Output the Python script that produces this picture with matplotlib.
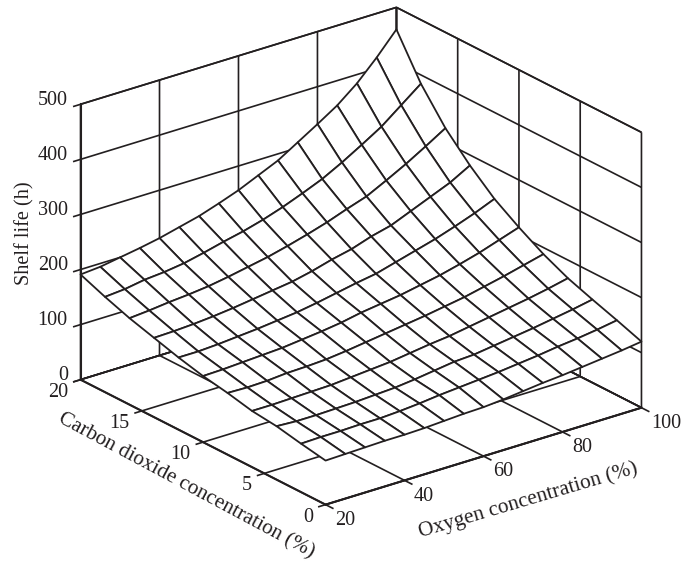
import numpy as np
import matplotlib
matplotlib.use('Agg')
import matplotlib.pyplot as plt
from matplotlib.transforms import Affine2D
from mpl_toolkits.mplot3d import proj3d

plt.rcParams['font.family'] = ['Liberation Serif', 'DejaVu Serif']

oxygen = [20, 25, 30, 35, 40, 45, 50, 55, 60, 65, 70, 75, 80, 85, 90, 95, 100]
carbon_dioxide = [20, 18, 16, 14, 12, 10, 8, 6, 4, 2, 0]
shelf_co2_20 = [191, 194, 200, 206, 213, 222, 231, 243, 256, 272, 288, 310, 332, 355, 384, 420, 460]
shelf_co2_18 = [173, 176, 182, 185, 190, 198, 207, 215, 225, 237, 251, 266, 285, 306, 328, 356, 384]
shelf_co2_16 = [157, 160, 164, 167, 171, 177, 184, 191, 200, 210, 221, 234, 246, 264, 283, 304, 326]
shelf_co2_14 = [144, 145, 147, 150, 154, 159, 164, 169, 177, 187, 195, 207, 216, 231, 246, 261, 281]
shelf_co2_12 = [131, 131, 133, 136, 139, 143, 147, 153, 160, 167, 173, 183, 193, 203, 215, 228, 243]
shelf_co2_10 = [120, 121, 123, 125, 127, 131, 135, 140, 147, 152, 157, 164, 171, 180, 190, 202, 214]
shelf_co2_08 = [112, 111, 112, 115, 116, 118, 122, 127, 132, 137, 142, 148, 154, 162, 170, 179, 188]
shelf_co2_06 = [102, 102, 103, 104, 105, 108, 111, 114, 119, 124, 128, 134, 140, 146, 152, 159, 167]
shelf_co2_04 = [97, 95, 95, 96, 97, 99, 101, 105, 110, 115, 117, 122, 127, 132, 138, 144, 151]
shelf_co2_02 = [88, 89, 89, 90, 90, 92, 95, 99, 102, 105, 108, 112, 116, 121, 125, 130, 136]
shelf_co2_00 = [80, 81, 82, 83, 83, 84, 86, 88, 89, 92, 96, 100, 103, 107, 111, 115, 120]
shelf_life = np.array([shelf_co2_20, shelf_co2_18, shelf_co2_16, shelf_co2_14, shelf_co2_12,
                       shelf_co2_10, shelf_co2_08, shelf_co2_06, shelf_co2_04, shelf_co2_02,
                       shelf_co2_00], dtype=float)
oxygen_ticks = [20, 40, 60, 80, 100]
co2_ticks = [0, 5, 10, 15, 20]
life_ticks = [0, 100, 200, 300, 400, 500]

INK = '#231f20'
W, H = 683, 566
fig = plt.figure(figsize=(W / 100, H / 100), dpi=100, facecolor='white')
side = 683
ax = fig.add_axes([0, (H - side) / 2 / H, side / W, side / H], projection='3d', proj_type='ortho')
ax.set_xlim(20, 100, view_margin=0)
ax.set_ylim(0, 20, view_margin=0)
ax.set_zlim(0, 500, view_margin=0)
ax.view_init(elev=23.3, azim=-127.8)
zoom = 1.0
ax.set_box_aspect((4, 4, 3), zoom=zoom)

X, Y = np.meshgrid(oxygen, carbon_dioxide)
ax.plot_surface(X, Y, shelf_life, rstride=1, cstride=1, color='white', edgecolor=INK,
                linewidth=1.3, shade=False, antialiased=True)

ax.set_xticks(oxygen_ticks)
ax.set_yticks(co2_ticks)
ax.set_zticks(life_ticks)
ax.tick_params(axis='x', labelsize=14.5, colors=INK, pad=2)
ax.tick_params(axis='y', labelsize=14.5, colors=INK, pad=2)
ax.tick_params(axis='z', labelsize=14.5, colors=INK, pad=1)
ax.zaxis.set_ticks_position('upper')
ax.zaxis.set_label_position('upper')
plt.setp(ax.get_xticklabels(), ha='left', va='center')
plt.setp(ax.get_yticklabels(), ha='right', va='center')
plt.setp(ax.get_zticklabels(), ha='right', va='center')
ax.set_xlabel('Oxygen concentration (%)', fontsize=15.4, color=INK, labelpad=8)
ax.set_ylabel('Carbon dioxide concentration (%)', fontsize=15.2, color=INK, labelpad=8)
ax.set_zlabel('Shelf life (h)', fontsize=14.6, color=INK, labelpad=6)
ax.xaxis.set_rotate_label(False)
ax.yaxis.set_rotate_label(False)
ax.xaxis.label.set_rotation(16.5)
ax.yaxis.label.set_rotation(-28.2)


def nudge(label, dx, dy):
    # mplot3d resets label transforms while drawing, so shift them where they are read
    label.get_transform = lambda: ax.transData + Affine2D().translate(dx, dy)


nudge(ax.xaxis.label, 16.7, 1)
nudge(ax.yaxis.label, 19, -2)
nudge(ax.zaxis.label, 3, 6)
for tick in ax.zaxis.get_major_ticks():
    nudge(tick.label1, 7, 3)
for tick in ax.yaxis.get_major_ticks():
    nudge(tick.label1, 0, 2)
for axis in (ax.xaxis, ax.yaxis, ax.zaxis):
    axis.set_pane_color((1, 1, 1, 1))
    axis.pane.set_edgecolor(INK)
    axis.pane.set_linewidth(1.2)
    axis.line.set_color(INK)
    axis.line.set_linewidth(1.5)
    axis._axinfo['grid'].update(color=INK, linewidth=1.2, linestyle='-')
    axis._axinfo['tick'].update(inward_factor=0.0, outward_factor=0.0, color=INK)
    axis._axinfo['tick']['linewidth'] = {True: 1.2, False: 1.2}

# outward tick marks along the floor and wall directions
tick_style = dict(color=INK, linewidth=1.2, solid_capstyle='butt')
for v in oxygen_ticks:
    ax.plot([v, v], [0, -0.65], [0, 0], **tick_style)
for v in co2_ticks:
    ax.plot([20, 18.1], [v, v], [0, 0], **tick_style)
for v in life_ticks:
    ax.plot([20, 18.1], [20, 20], [v, v], **tick_style)
ax.set_xlim(20, 100, view_margin=0)
ax.set_ylim(0, 20, view_margin=0)
ax.set_zlim(0, 500, view_margin=0)

# fit zoom and axes position to the reference box corners (pixels from top-left)
data_pts = [(20, 0, 0), (100, 0, 0), (20, 20, 0), (20, 20, 500), (100, 0, 500), (100, 20, 500)]
pix_pts = np.array([(327, 507), (641, 407), (80, 378), (80, 103), (641, 131), (397, 10)], float)
pix_pts[:, 1] = H - pix_pts[:, 1]
for _ in range(3):
    fig.canvas.draw()
    M = ax.get_proj()
    cur = []
    for p in data_pts:
        u, v, _w = proj3d.proj_transform(*p, M)
        cur.append(ax.transData.transform((u, v)))
    cur = np.array(cur)
    s = pix_pts.std(axis=0).sum() / cur.std(axis=0).sum()
    zoom *= s
    ax.set_box_aspect((4, 4, 3), zoom=zoom)
    fig.canvas.draw()
    M = ax.get_proj()
    cur = np.array([ax.transData.transform(proj3d.proj_transform(*p, M)[:2]) for p in data_pts])
    d = pix_pts.mean(axis=0) - cur.mean(axis=0)
    pos = ax.get_position(original=True)
    ax.set_position([pos.x0 + d[0] / W, pos.y0 + d[1] / H, pos.width, pos.height])

fig.savefig('out.png', dpi=100, facecolor='white')
